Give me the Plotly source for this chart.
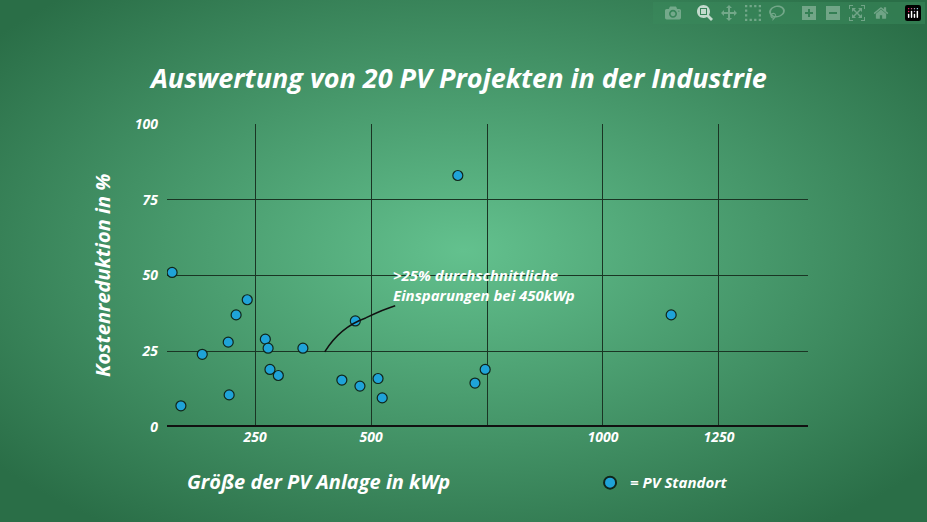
import plotly.graph_objects as go

x_kwp = [71, 90, 136, 192, 194, 209, 233, 272, 278, 282, 300, 353, 437, 466, 476, 515, 524, 687, 724, 746, 1147]
y_pct = [51, 7, 24, 28, 10.6, 37, 42, 29, 26, 19, 17, 26, 15.5, 35, 13.5, 16, 9.6, 83, 14.5, 19, 37]
x_ticks = [250, 500, 750, 1000, 1250]
x_labels = ["250", "500", "", "1000", "1250"]
y_ticks = [0, 25, 50, 75, 100]

F = "Open Sans"
svg = ("data:image/svg+xml;utf8,<svg xmlns='http://www.w3.org/2000/svg' width='927' height='522'>"
       "<defs><radialGradient id='g' cx='50%' cy='48%' r='65%'>"
       "<stop offset='0' stop-color='%2363c18e'/><stop offset='1' stop-color='%232a6e47'/>"
       "</radialGradient></defs><rect width='927' height='522' fill='url(%23g)'/></svg>")

fig = go.Figure()
fig.add_trace(go.Scatter(x=x_kwp, y=y_pct, mode="markers", name="<b><i>= PV Standort</i></b>",
                         marker=dict(size=10, color="#1fa3d8", line=dict(color="#10261a", width=1.2))))
fig.update_layout(
    width=927, height=522, margin=dict(l=167, r=119, t=124, b=95),
    paper_bgcolor="#3a8a5c", plot_bgcolor="rgba(0,0,0,0)",
    images=[dict(source=svg, xref="paper", yref="paper", x=-167/641, y=1+124/303,
                 sizex=927/641, sizey=522/303, sizing="stretch", layer="below", xanchor="left", yanchor="top")],
    font=dict(family=F, color="white"),
    title=dict(text="<b><i>Auswertung von 20 PV Projekten in der Industrie</i></b>", x=0.495, xanchor="center",
               y=0.85, yanchor="middle", font=dict(size=27, color="white", family=F)),
    xaxis=dict(range=[60, 1442], tickvals=x_ticks, ticktext=["<b><i>%s</i></b>" % t if t else "" for t in x_labels],
               showgrid=True, gridcolor="#1a3524", gridwidth=1, zeroline=False, showline=False,
               tickfont=dict(size=14, color="white", family=F), ticks=""),
    yaxis=dict(range=[0, 100], tickvals=y_ticks, ticktext=["<b><i>%d</i></b>" % v for v in y_ticks],
               showgrid=True, gridcolor="#1a3524", gridwidth=1,
               zeroline=False, ticks="", ticklabelstandoff=8,
               tickfont=dict(size=14, color="white", family=F)),
    legend=dict(x=0.66, y=-0.13, xanchor="left", yanchor="top", bgcolor="rgba(0,0,0,0)",
                itemsizing="constant", font=dict(size=15, color="white", family=F)),
    showlegend=True,
)
fig.add_shape(type="line", xref="paper", yref="y", x0=0, x1=1, y0=0, y1=0, line=dict(color="#111", width=4))
fig.add_shape(type="path", xref="paper", yref="paper",
              path="M 0.246 0.248 Q 0.27 0.33 0.31 0.36 Q 0.34 0.39 0.356 0.40",
              line=dict(color="#111", width=1.5))
fig.add_annotation(xref="paper", yref="paper", x=0.35, y=0.47, xanchor="left", yanchor="middle", showarrow=False,
                   align="left", text="<b><i>>25% durchschnittliche<br>Einsparungen bei 450kWp</i></b>",
                   font=dict(size=15, color="white", family=F))
fig.add_annotation(xref="paper", yref="paper", x=0.028, y=-0.18, xanchor="left", yanchor="middle", showarrow=False,
                   text="<b><i>Größe der PV Anlage in kWp</i></b>", font=dict(size=20, color="white", family=F))
fig.add_annotation(xref="paper", yref="paper", x=-0.125, y=0.5, textangle=-90, showarrow=False,
                   text="<b><i>Kostenreduktion in %</i></b>", font=dict(size=20, color="white", family=F))
fig.write_html("out.html", post_script="document.body.style.margin='0';document.body.style.overflow='hidden';")
